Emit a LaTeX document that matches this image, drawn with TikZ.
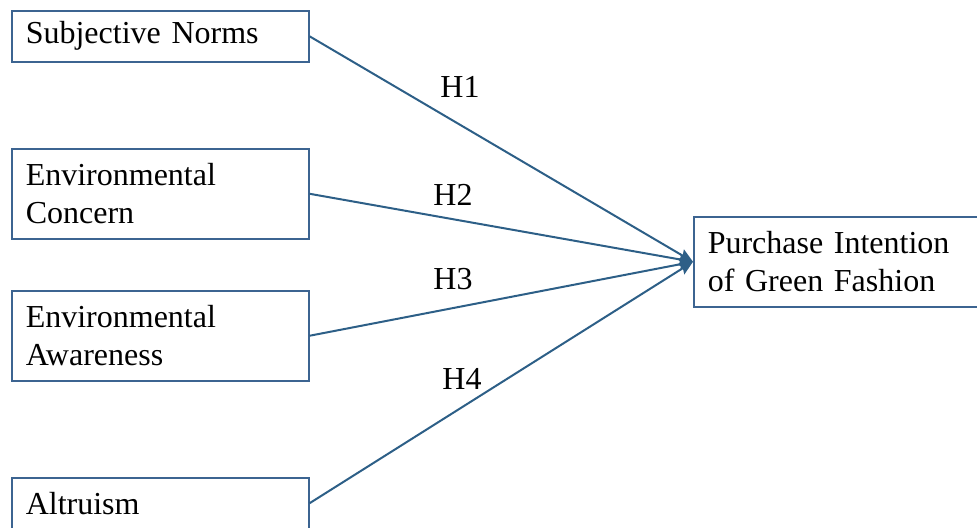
\documentclass[tikz,border=0pt]{standalone}
\usepackage{fontspec}
\setmainfont{Liberation Serif}
\usepackage{tikz}
\usetikzlibrary{arrows.meta}
\definecolor{boxblue}{RGB}{60,100,145}
\definecolor{lineblue}{RGB}{45,95,135}

\begin{document}
\begin{tikzpicture}[x=0.5pt,y=-0.5pt,
  varbox/.style={draw=boxblue,line width=0.75pt,anchor=north west,
    minimum width=148.5pt,text width=134.5pt,inner xsep=7pt,inner ysep=0pt,
    align=left,font=\fontsize{16}{19}\selectfont},
  hlabel/.style={font=\fontsize{16}{19}\selectfont,inner sep=0pt},
  path/.style={draw=lineblue,line width=1pt,-{Stealth[length=7pt,width=6pt,inset=1pt]}}]
\useasboundingbox (0,0) rectangle (977,527);
\begin{scope}
\clip (0,0) rectangle (977,527);
\node[varbox,minimum height=25.5pt] (sn) at (11,10) {Subjective Norms};
\node[varbox,minimum height=45pt] (ec) at (11,148) {Environmental\\Concern};
\node[varbox,minimum height=45pt] (ea) at (11,290) {Environmental\\Awareness};
\node[varbox,minimum height=25.5pt] (al) at (11,477) {Altruism};
\node[varbox,minimum height=45pt,minimum width=150pt,text width=136pt] (pi) at (693,216) {Purchase Intention\\of Green Fashion};
\end{scope}

\draw[path] (sn.east) -- (pi.west);
\draw[path] (ec.east) -- (pi.west);
\draw[path] (ea.east) -- (pi.west);
\draw[path] (al.east) -- (pi.west);

\node[hlabel] (h1) at (460,87) {H1};
\node[hlabel] (h2) at (453,195) {H2};
\node[hlabel] (h3) at (453,279) {H3};
\node[hlabel] (h4) at (462,379) {H4};
\end{tikzpicture}
\end{document}
